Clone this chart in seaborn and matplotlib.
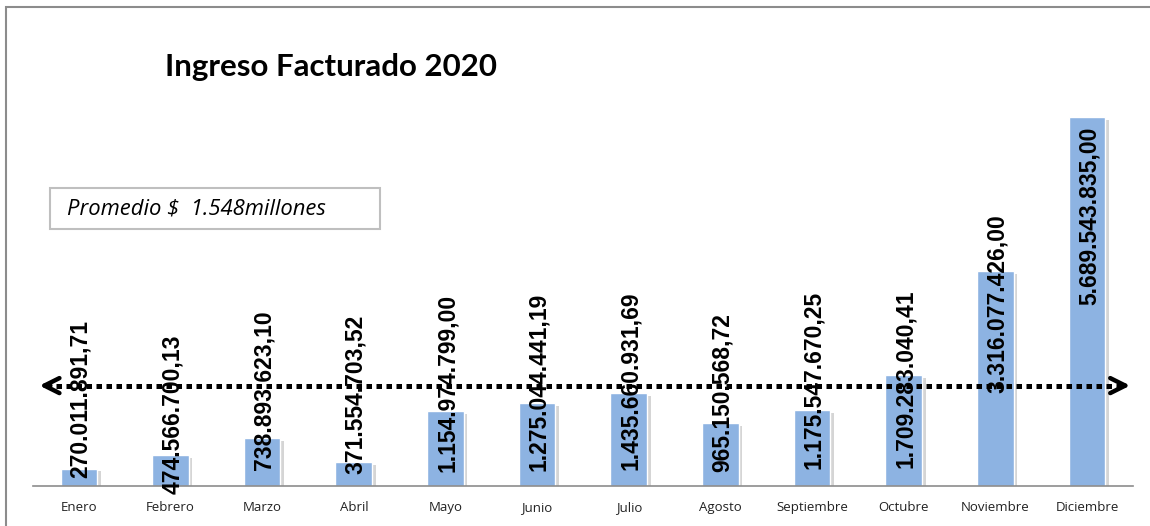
import pandas as pd
import matplotlib
matplotlib.use("Agg")
import matplotlib.pyplot as plt
import matplotlib.patheffects as pe
from matplotlib.patches import Rectangle
import seaborn as sns

# Ingreso facturado por mes (pesos)
meses = ["Enero", "Febrero", "Marzo", "Abril", "Mayo", "Junio", "Julio",
         "Agosto", "Septiembre", "Octubre", "Noviembre", "Diciembre"]
ingresos = [270011891.71, 474566700.13, 738893623.10, 371554703.52,
            1154974799.00, 1275044441.19, 1435660931.69, 965150568.72,
            1175547670.25, 1709283040.41, 3316077426.00, 5689543835.00]
etiquetas = ["270.011.891,71", "474.566.700,13", "738.893.623,10", "371.554.703,52",
             "1.154.974.799,00", "1.275.044.441,19", "1.435.660.931,69", "965.150.568,72",
             "1.175.547.670,25", "1.709.283.040,41", "3.316.077.426,00", "5.689.543.835,00"]

# where each value label sits (bottom of the rotated text, data units)
label_bottom = [0.12e9, -0.12e9, 0.25e9, 0.19e9, 0.22e9, 0.23e9, 0.25e9,
                0.22e9, 0.26e9, 0.28e9, 1.43e9, 2.79e9]

df = pd.DataFrame({"mes": meses, "ingreso": ingresos})
promedio = df["ingreso"].mean()

sns.set_theme(style="white")
plt.rcParams["font.family"] = ["Liberation Sans", "DejaVu Sans"]

fig = plt.figure(figsize=(11.5, 5.26), dpi=100)
ax = fig.add_axes([0.0287, 0.076, 0.9565, 0.74])

sns.barplot(data=df, x="mes", y="ingreso", color="#8DB3E2", width=0.4,
            saturation=1, ax=ax, zorder=2)
for bar in ax.patches:
    bar.set_path_effects([pe.SimplePatchShadow(offset=(2.5, -2), alpha=0.22, shadow_rgbFace="#444444"),
                          pe.Normal()])

ax.set_ylim(0, 6.0e9)
ax.set_xlim(-0.5, 11.5)

# average line with arrow heads
ax.plot([-0.36, 11.4], [promedio, promedio], color="black", lw=3.6,
        linestyle=(0, (1.1, 0.9)), dash_capstyle="butt", zorder=3)
head = "->,head_length=0.9,head_width=0.45"
ax.annotate("", xy=(-0.46, promedio), xytext=(-0.28, promedio),
            arrowprops=dict(arrowstyle=head, lw=3.2, color="black"), zorder=3)
ax.annotate("", xy=(11.5, promedio), xytext=(11.32, promedio),
            arrowprops=dict(arrowstyle=head, lw=3.2, color="black"), zorder=3)

for i, (lab, yb) in enumerate(zip(etiquetas, label_bottom)):
    ax.text(i + 0.02, yb, lab, rotation=90, ha="center", va="bottom",
            fontsize=16.5, fontweight="bold", color="black", zorder=4)

ax.set_xlabel("")
ax.set_ylabel("")
ax.set_yticks([])
ax.tick_params(axis="x", length=0, pad=11, labelsize=9.5, labelcolor="#222222")
for lbl in ax.get_xticklabels():
    lbl.set_fontfamily(["Open Sans", "DejaVu Sans"])
for s in ["top", "right", "left"]:
    ax.spines[s].set_visible(False)
ax.spines["bottom"].set_color("#8c8c8c")
ax.spines["bottom"].set_linewidth(1.2)

# chart frame (cut at the right and bottom)
fig.patches.append(Rectangle((6 / 1150, -0.05), 1.1, 1 - 7 / 526 + 0.05,
                             transform=fig.transFigure, fill=False,
                             edgecolor="#8c8c8c", lw=1.5))

fig.text(165 / 1150, 1 - 67 / 526, "Ingreso Facturado 2020", fontsize=22.5,
         fontweight="bold", va="center", ha="left", color="black",
         family=["Lato", "DejaVu Sans"])

fig.patches.append(Rectangle((50 / 1150, 1 - 229 / 526), 330 / 1150, 41 / 526,
                             transform=fig.transFigure, fill=False,
                             edgecolor="#bfbfbf", lw=1.5))
fig.text(67 / 1150, 1 - 209 / 526, "Promedio $  1.548millones", fontsize=15.8,
         style="italic", va="center", ha="left", color="black",
         family=["Open Sans", "DejaVu Sans"])

fig.savefig("out.png", dpi=100)
